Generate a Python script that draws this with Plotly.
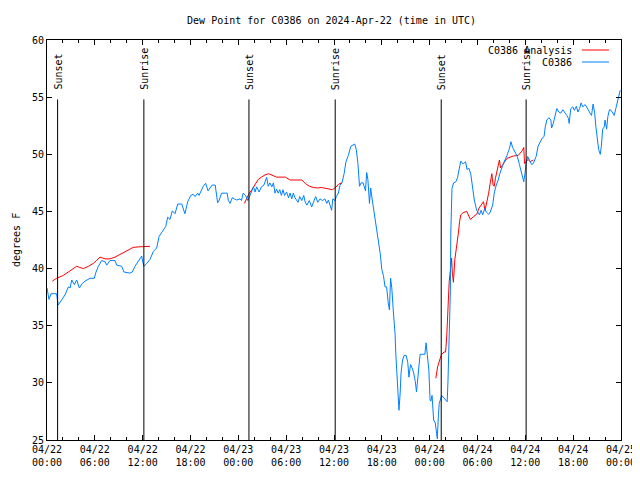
import plotly.graph_objects as go

# ---------------- data ----------------
# hours since 2024-04-22 00:00 UTC, dew point in degrees F
obs_hours = [0.0, 0.25, 0.5, 1.2, 1.4, 1.8, 2.26, 2.68, 2.9, 3.1, 3.43, 3.72, 4.06, 4.43, 4.77, 5.4, 5.94,
             6.1, 6.44, 6.86, 7.28, 7.49, 7.9, 8.53, 8.74, 9.37, 9.66, 10.4, 10.7, 11.04, 11.46, 11.88, 12.0,
             12.17, 12.5, 12.92, 13.34, 13.76, 14.05, 14.6, 14.9, 15.14, 15.43, 15.72, 16.06, 16.4, 16.9,
             17.3, 17.65, 18.03, 18.36, 18.57, 18.9, 19.07, 19.4, 19.6, 19.9, 20.2, 20.45, 20.7, 21.1, 21.3,
             21.4, 21.55, 21.9, 22.6, 22.75, 22.96, 23.25, 23.5, 23.8, 24.2, 24.4, 24.6, 24.9, 25.2, 25.35,
             25.6, 25.9, 26.1, 26.3, 26.6, 26.9, 27.2, 27.4, 27.55, 27.75, 27.95, 28.2, 28.4, 28.6, 28.8,
             29.0, 29.2, 29.4, 29.6, 29.8, 30.05, 30.3, 30.5, 30.7, 30.9, 31.1, 31.5, 31.7, 31.96, 32.2,
             32.4, 32.6, 32.9, 33.2, 33.4, 33.7, 33.96, 34.25, 34.55, 34.85, 35.1, 35.3, 35.5, 35.7, 35.85,
             36.1, 36.3, 36.55, 36.76, 37.0, 37.27, 37.5, 37.8, 38.1, 38.6, 38.8, 39.0, 39.2, 39.4, 39.65,
             39.85, 39.95, 40.1, 40.25, 40.45, 40.6, 40.8, 41.0, 41.2, 41.4, 41.6, 41.8, 42.0, 42.2, 42.4,
             42.6, 42.8, 42.95, 43.1, 43.25, 43.45, 43.66, 43.75, 43.95, 44.15, 44.3, 44.4, 44.6, 44.8,
             45.05, 45.25, 45.4, 45.6, 45.8, 46.0, 46.2, 46.35, 46.45, 46.6, 46.8, 47.4, 47.55, 47.7, 47.9,
             48.05, 48.15, 48.3, 48.5, 48.7, 48.96, 49.1, 49.2, 49.5, 49.9, 50.2, 50.3, 50.5, 50.6, 50.65,
             50.8, 51.0, 51.3, 51.5, 51.7, 51.9, 52.2, 52.5, 52.7, 52.9, 53.15, 53.35, 53.6, 53.9, 54.25,
             54.45, 54.65, 54.9, 55.1, 55.4, 55.6, 55.9, 56.1, 56.35, 56.6, 56.8, 57.0, 57.25, 57.7, 58.0,
             58.2, 58.4, 58.7, 59.0, 59.26, 59.55, 59.8, 59.95, 60.1, 60.3, 60.6, 60.8, 61.0, 61.35, 61.6,
             61.85, 62.1, 62.35, 62.5, 62.7, 62.95, 63.2, 63.3, 63.5, 63.7, 63.95, 64.2, 64.45, 64.7, 65.0,
             65.2, 65.4, 65.5, 65.7, 65.95, 66.15, 66.4, 66.6, 66.8, 67.0, 67.2, 67.5, 67.7, 67.9, 68.1,
             68.3, 68.5, 68.7, 68.85, 69.0, 69.2, 69.4, 69.55, 69.7, 69.9, 70.0, 70.2, 70.35, 70.55, 70.75,
             70.95, 71.15, 71.35, 71.55, 71.7, 71.9]
obs_dewpoint = [38.3, 37.3, 37.8, 37.8, 36.8, 37.2, 37.7, 38.4, 38.3, 39.0, 38.6, 39.0, 38.3, 38.7, 38.9, 39.15, 39.15,
                39.6, 40.2, 40.7, 40.6, 40.3, 40.7, 40.7, 40.3, 40.2, 39.7, 39.6, 39.7, 40.2, 40.6, 41.1, 40.6,
                40.2, 40.45, 40.8, 41.5, 41.8, 42.8, 43.4, 43.7, 44.5, 44.3, 45.05, 44.8, 45.65, 45.65,
                44.8, 45.85, 46.4, 46.5, 46.3, 46.6, 46.4, 46.9, 47.2, 47.46, 46.8, 47.05, 47.3, 47.3, 46.15,
                45.76, 45.9, 46.6, 46.6, 45.95, 45.7, 46.2, 46.1, 46.0, 46.1, 45.95, 46.6, 46.4, 45.95, 46.2,
                46.7, 47.15, 46.7, 47.15, 46.7, 47.15, 47.3, 47.75, 47.98, 47.2, 47.5, 47.15, 47.5, 46.6, 46.95,
                46.6, 46.9, 46.4, 46.9, 46.4, 46.7, 46.2, 46.6, 46.1, 46.6, 46.2, 45.8, 46.3, 45.95, 46.4,
                45.8, 45.55, 45.95, 45.4, 45.8, 46.3, 45.8, 46.1, 45.95, 46.1, 45.7, 46.0, 45.55, 45.1, 46.1,
                45.95, 46.3, 46.6, 47.3, 47.5, 48.3, 49.35, 49.9, 50.7, 50.9, 50.4, 49.2, 47.2, 47.5, 47.5,
                47.05, 46.8, 48.4, 47.8, 45.7, 47.05, 46.0, 45.1, 44.25, 43.4, 42.5, 41.3, 39.9, 39.4, 38.4,
                38.4, 37.0, 36.4, 39.15, 38.3, 36.2, 34.3, 32.6, 29.4, 27.6, 29.1, 30.8, 32.0, 32.4,
                32.4, 31.8, 30.5, 31.6, 31.3, 30.85, 30.1, 29.2, 29.96, 31.1, 32.5, 32.5, 33.5, 32.5, 31.1,
                28.5, 28.4, 28.9, 26.75, 26.5, 25.1, 27.2, 28.2, 28.9, 28.6, 28.35, 30.25, 34.3, 38.1, 43.1,
                47.0, 47.5, 47.6, 47.98, 48.9, 49.4, 49.15, 49.35, 48.65, 48.8, 48.3, 47.2, 46.0, 45.1, 44.7,
                45.1, 44.7, 45.25, 44.95, 44.75, 44.95, 45.55, 46.6, 47.3, 47.75, 48.3, 48.8, 49.2, 49.9, 50.5,
                51.1, 50.6, 50.2, 49.8, 49.1, 48.2, 47.6, 48.3, 49.2, 49.8, 49.4, 49.1, 49.2, 49.8, 50.7,
                51.1, 51.4, 51.55, 52.4, 53.0, 53.2, 53.0, 52.3, 52.7, 53.3, 54.0, 53.7, 53.6, 53.9, 53.65,
                53.4, 53.15, 52.7, 54.0, 54.15, 53.85, 54.2, 53.7, 54.0, 54.5, 54.15, 54.35, 54.15, 53.9, 53.6,
                53.4, 54.4, 53.6, 52.4, 51.4, 50.4, 50.0, 50.8, 52.2, 52.4, 53.0, 52.2, 53.3, 53.9, 53.85,
                53.6, 53.4, 54.0, 54.5, 55.0, 55.6]

# analysis series (None = no analysis available -> gap in the line)
ana_hours = [0.67, 1.2, 2.05, 2.68, 3.3, 3.72, 4.1, 4.56, 5.2, 5.8, 6.2, 6.65, 7.28, 7.9, 8.53, 9.16, 9.8,
             10.4, 10.8, 11.46, 12.3, 12.92, 18.0,
             24.76, 25.0, 25.3, 25.7, 26.1, 26.5, 26.9, 27.35, 27.8, 28.2, 28.8, 29.9, 30.5, 31.1, 31.96,
             32.4, 32.9, 33.4, 33.96, 34.4, 34.85, 35.3, 35.8, 36.2, 36.6, 37.0, 42.0,
             48.77, 49.0, 49.3, 49.5, 49.8, 50.0, 50.15, 50.3, 50.45, 50.65, 50.75, 50.85, 50.98, 51.15,
             51.4, 51.6, 51.75, 51.9, 52.2, 52.65, 52.85, 53.1, 53.5, 53.9, 54.2, 54.5, 54.75, 54.95, 55.15,
             55.4, 55.6, 55.8, 55.95, 56.1, 56.25, 56.4, 56.6, 56.75, 56.9, 57.15, 57.4, 57.7, 58.5, 59.1,
             59.6, 59.8, 59.9, 60.1, 60.35, 60.6, 60.8, 61.0]
ana_dewpoint = [38.9, 39.15, 39.4, 39.7, 40.0, 40.2, 40.1, 40.0, 40.2, 40.45, 40.7, 41.0, 40.85, 40.85, 41.0,
                41.25, 41.45, 41.7, 41.85, 41.9, 41.95, 41.95, None,
                45.7, 46.1, 46.5, 46.9, 47.4, 47.8, 48.0, 48.2, 48.3, 48.2, 48.0, 48.0, 47.75, 47.75, 47.75,
                47.45, 47.2, 47.1, 47.05, 47.1, 47.05, 46.95, 46.9, 47.1, 47.4, 47.5, None,
                30.4, 31.4, 32.1, 32.5, 32.7, 32.7, 34.2, 37.4, 38.85, 40.2, 40.9, 39.6, 38.8, 40.75,
                41.9, 43.1, 44.1, 44.7, 44.9, 45.0, 44.7, 44.3, 44.55, 44.75, 45.3, 45.55, 45.85, 45.1, 45.7,
                46.6, 47.5, 48.3, 47.3, 47.2, 47.9, 48.45, 49.05, 49.5, 48.8, 49.05, 49.35, 49.65, 49.85, 49.9,
                50.3, 50.6, 49.2, 49.35, 49.55, 49.35, 49.45, 49.5]

# sunset / sunrise events (hours since 2024-04-22 00:00 UTC)
event_hours = [1.33, 12.15, 25.33, 36.15, 49.45, 60.1]
event_labels = ["Sunset", "Sunrise", "Sunset", "Sunrise", "Sunset", "Sunrise"]
event_line_top = 54.8
event_label_base = 55.45

x_tick_hours = [0, 6, 12, 18, 24, 30, 36, 42, 48, 54, 60, 66, 72]
x_tick_labels = ["04/22<br>00:00", "04/22<br>06:00", "04/22<br>12:00", "04/22<br>18:00",
                 "04/23<br>00:00", "04/23<br>06:00", "04/23<br>12:00", "04/23<br>18:00",
                 "04/24<br>00:00", "04/24<br>06:00", "04/24<br>12:00", "04/24<br>18:00",
                 "04/25<br>00:00"]
y_ticks = [25, 30, 35, 40, 45, 50, 55, 60]

series_names = ["C0386 Analysis", "C0386"]
series_colors = ["#ff0000", "#0080ff"]

title_text = "Dew Point for C0386 on 2024-Apr-22 (time in UTC)"
y_label = "degrees F"

FONT = "DejaVu Sans Mono"

# the page body adds an 8px margin; size the figure so the plot lands where the reference has it
FIG_W, FIG_H = 632, 472

# ---------------- figure ----------------
fig = go.Figure()

fig.add_trace(go.Scatter(x=ana_hours, y=ana_dewpoint, mode="lines", name=series_names[0],
                         line=dict(color=series_colors[0], width=1), connectgaps=False,
                         showlegend=False))
fig.add_trace(go.Scatter(x=obs_hours, y=obs_dewpoint, mode="lines", name=series_names[1],
                         line=dict(color=series_colors[1], width=1), showlegend=False))

shapes = []
annotations = []
for h, lab in zip(event_hours, event_labels):
    shapes.append(dict(type="line", xref="x", yref="y", x0=h, x1=h, y0=25, y1=event_line_top,
                       line=dict(color="black", width=1)))
    annotations.append(dict(x=h, y=event_label_base, xref="x", yref="y", text=lab, textangle=-90,
                            showarrow=False, xanchor="center", yanchor="bottom",
                            font=dict(family=FONT, size=10, color="black")))

# gnuplot-style key: right-aligned text with sample line to its right
key_rows_y = [0.975, 0.945]
for name, color, ky in zip(series_names, series_colors, key_rows_y):
    annotations.append(dict(x=0.918, y=ky, xref="paper", yref="paper", text=name, showarrow=False,
                            xanchor="right", yanchor="middle",
                            font=dict(family=FONT, size=10, color="black")))
    shapes.append(dict(type="line", xref="paper", yref="paper", x0=0.932, x1=0.979, y0=ky, y1=ky,
                       line=dict(color=color, width=1)))

annotations.append(dict(x=-0.054, y=0.5, xref="paper", yref="paper", text=y_label, textangle=-90,
                        showarrow=False, xanchor="center", yanchor="middle",
                        font=dict(family=FONT, size=10, color="black")))

fig.update_layout(
    width=FIG_W, height=FIG_H,
    margin=dict(l=39, r=19, t=32, b=40, autoexpand=False),
    paper_bgcolor="white", plot_bgcolor="white",
    font=dict(family=FONT, size=10, color="black"),
    title=dict(text=title_text, x=0.512, xanchor="center", y=1 - 12 / FIG_H, yanchor="middle",
               font=dict(family=FONT, size=10, color="black"), automargin=False),
    shapes=shapes, annotations=annotations,
    showlegend=False,
)
fig.update_xaxes(range=[0, 72], tickmode="array", tickvals=x_tick_hours, ticktext=x_tick_labels,
                 ticks="inside", ticklen=5, tickcolor="black", showgrid=False, zeroline=False,
                 showline=True, linecolor="black", linewidth=1, mirror="allticks", automargin=False,
                 minor=dict(tickmode="linear", tick0=0, dtick=2, ticks="inside", ticklen=3,
                            tickcolor="black", showgrid=False),
                 tickfont=dict(family=FONT, size=10, color="black"))
fig.update_yaxes(range=[25, 60], tickmode="array", tickvals=y_ticks, automargin=False,
                 ticks="inside", ticklen=5, tickcolor="black", showgrid=False, zeroline=False,
                 showline=True, linecolor="black", linewidth=1, mirror="allticks",
                 tickfont=dict(family=FONT, size=10, color="black"))

fig.write_html("out.html")
